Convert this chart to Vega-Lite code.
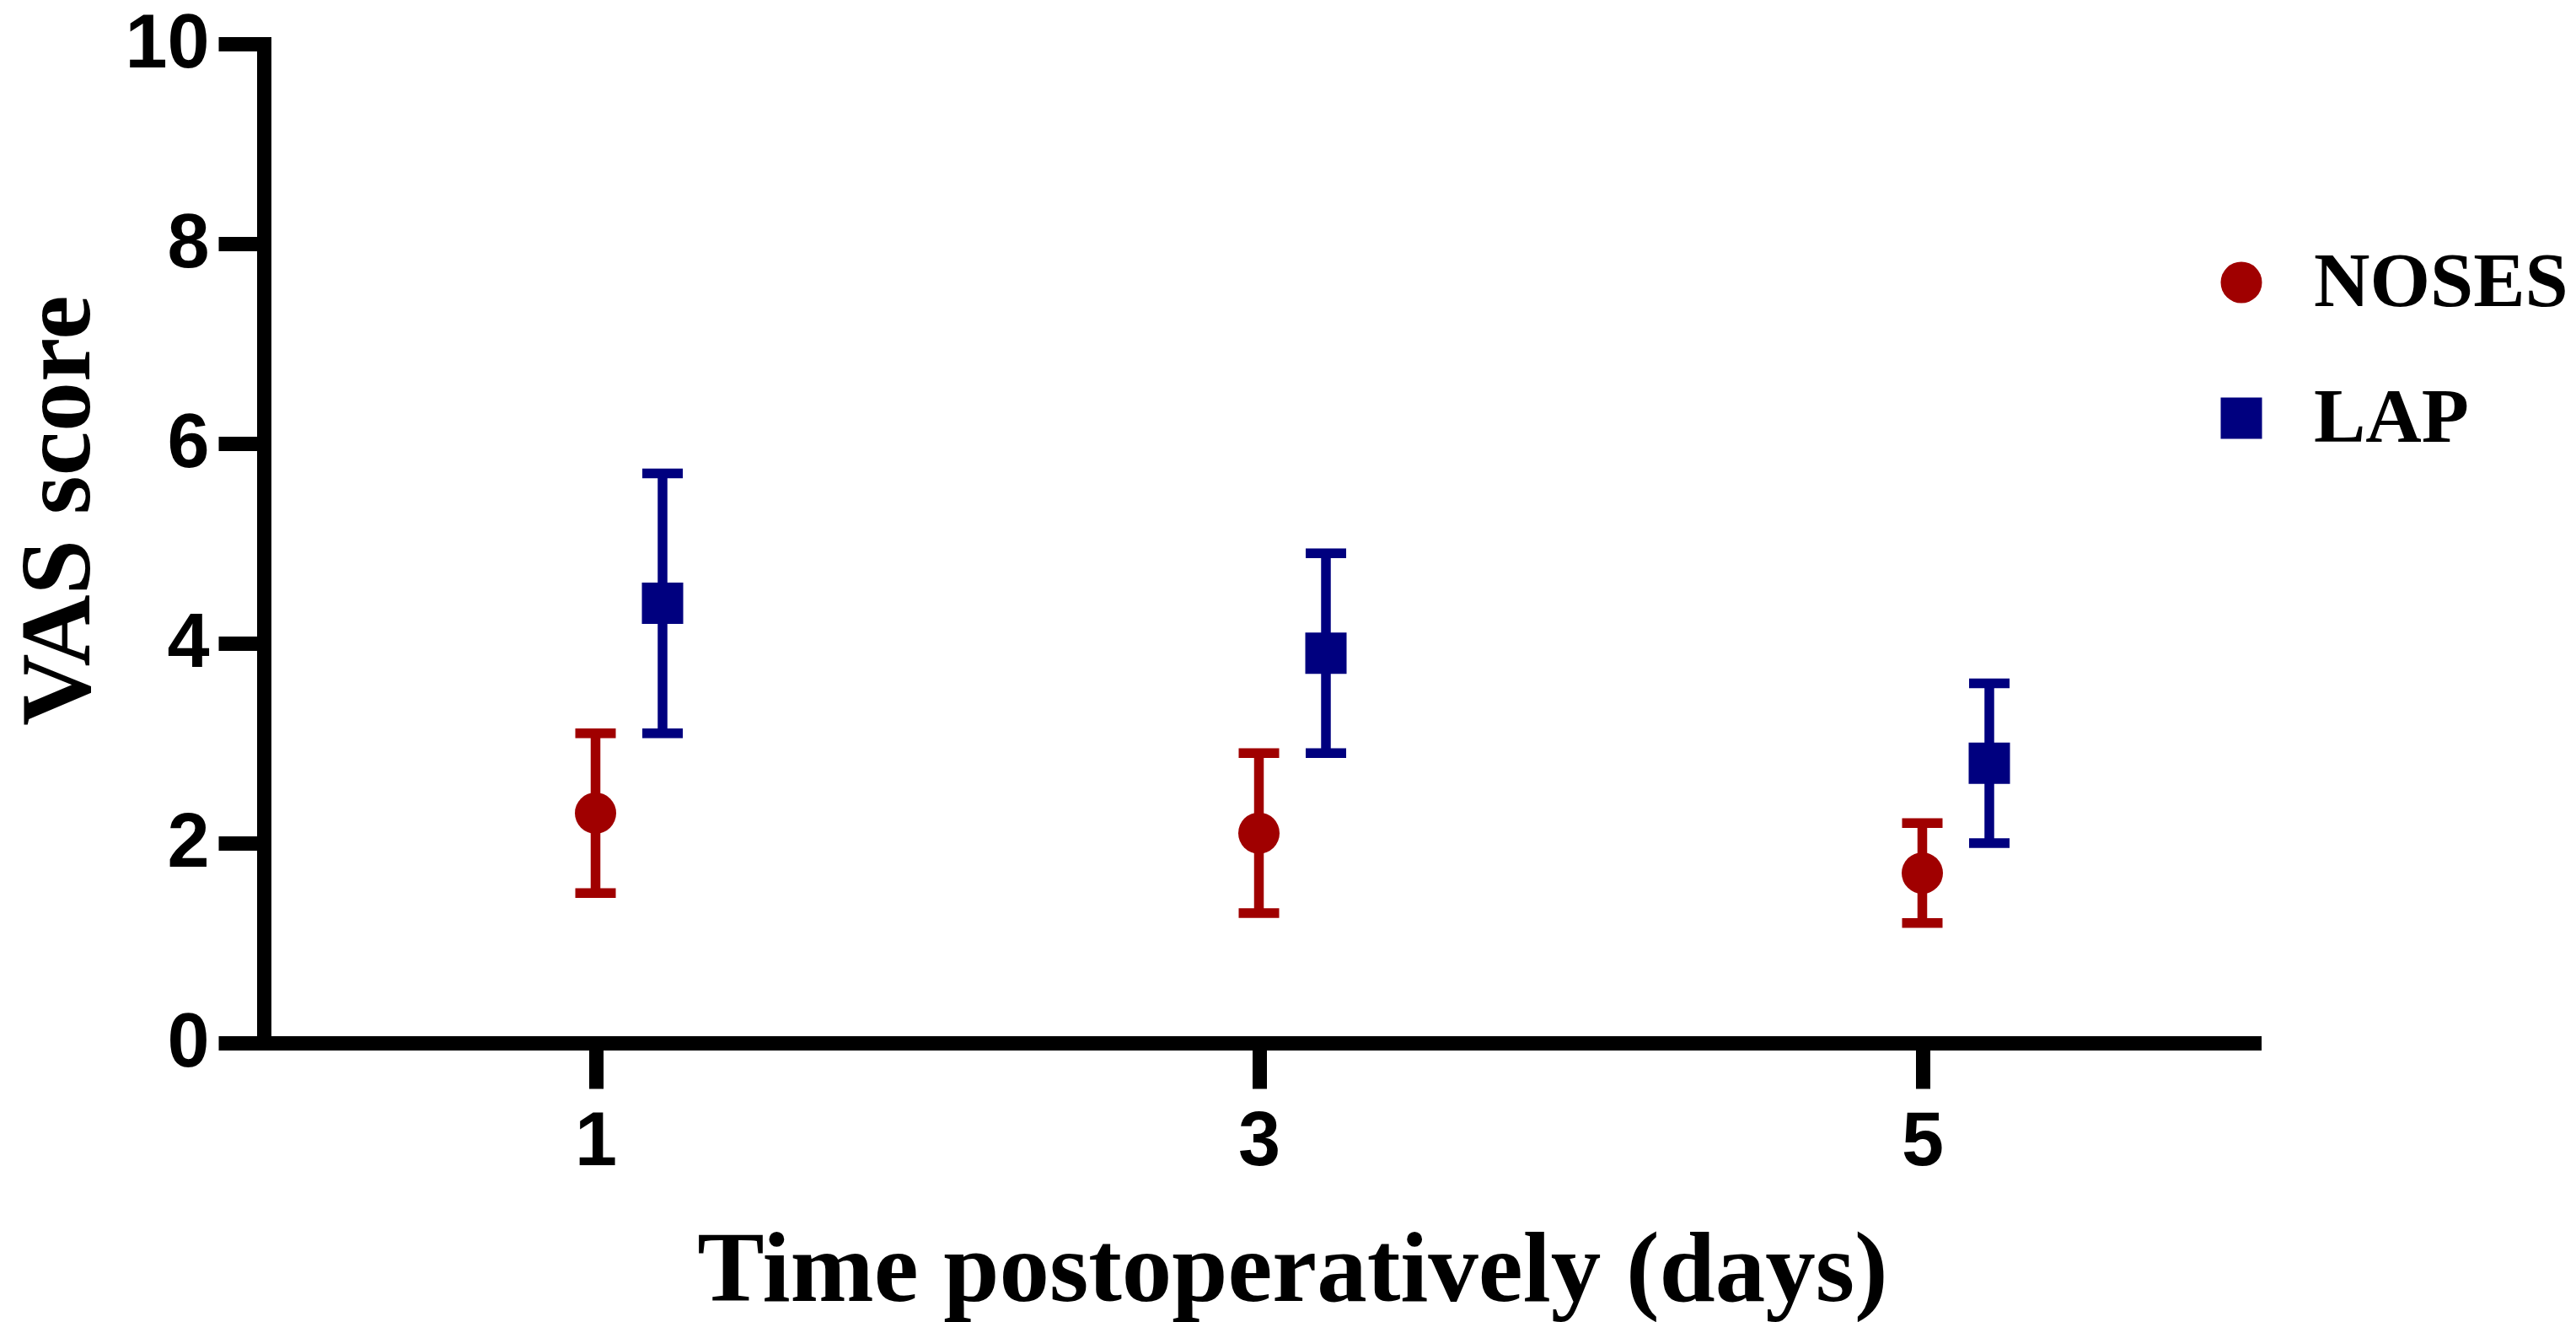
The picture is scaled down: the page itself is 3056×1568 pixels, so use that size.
{
  "$schema": "https://vega.github.io/schema/vega-lite/v6.json",
  "description": "VAS score by postoperative day, NOSES vs LAP, mean with error bars",
  "autosize": {"type": "none"},
  "padding": {"left": 313, "top": 52, "right": 382, "bottom": 331},
  "width": 2361,
  "height": 1185,
  "background": "white",
  "data": {
    "values": [
      {"day": 1, "group": "NOSES", "mean": 2.3, "lo": 1.5, "hi": 3.1},
      {"day": 3, "group": "NOSES", "mean": 2.1, "lo": 1.3, "hi": 2.9},
      {"day": 5, "group": "NOSES", "mean": 1.7, "lo": 1.2, "hi": 2.2},
      {"day": 1, "group": "LAP", "mean": 4.4, "lo": 3.1, "hi": 5.7},
      {"day": 3, "group": "LAP", "mean": 3.9, "lo": 2.9, "hi": 4.9},
      {"day": 5, "group": "LAP", "mean": 2.8, "lo": 2.0, "hi": 3.6}
    ]
  },
  "encoding": {
    "x": {
      "field": "day",
      "type": "ordinal",
      "scale": {"type": "point", "domain": [0, 1, 2, 3, 4, 5, 6], "padding": 0},
      "axis": {
        "values": [1, 3, 5],
        "labelAngle": 0,
        "title": "Time postoperatively (days)",
        "titleX": 1220,
        "titleY": 305,
        "titleAlign": "center",
        "titleBaseline": "alphabetic",
        "titleFont": "Liberation Serif",
        "titleFontSize": 119,
        "titleFontWeight": "bold",
        "labelPadding": 19
      }
    },
    "xOffset": {
      "field": "group",
      "type": "nominal",
      "scale": {"domain": ["NOSES", "LAP"], "range": [-39.75, 119.25], "paddingInner": 0, "paddingOuter": 0}
    },
    "color": {
      "field": "group",
      "type": "nominal",
      "scale": {"domain": ["NOSES", "LAP"], "range": ["#A00000", "#00007F"]},
      "legend": {
        "title": null,
        "orient": "none",
        "legendX": 2300,
        "legendY": 237,
        "direction": "vertical",
        "padding": 0,
        "symbolSize": 2401,
        "symbolStrokeWidth": 0,
        "symbolOpacity": 1,
        "labelFont": "Liberation Serif",
        "labelFontWeight": "bold",
        "labelFontSize": 92,
        "labelColor": "black",
        "labelOffset": 40,
        "labelLimit": 2000,
        "rowPadding": 69
      }
    }
  },
  "layer": [
    {
      "mark": {"type": "point", "filled": true, "size": 2401, "opacity": 1, "strokeWidth": 0},
      "encoding": {
        "y": {
          "field": "mean",
          "type": "quantitative",
          "scale": {"domain": [0, 10], "nice": false},
          "axis": {
            "values": [0, 2, 4, 6, 8, 10],
            "format": "d",
            "title": "VAS score",
            "titleAngle": -90,
            "titleX": -208,
            "titleY": 553,
            "titleAlign": "center",
            "titleBaseline": "alphabetic",
            "titleFont": "Liberation Serif",
            "titleFontSize": 118,
            "titleFontWeight": "bold",
            "labelPadding": 11
          }
        },
        "shape": {
          "field": "group",
          "type": "nominal",
          "scale": {"domain": ["NOSES", "LAP"], "range": ["circle", "square"]}
        }
      }
    },
    {
      "mark": {"type": "rule", "strokeWidth": 11.5},
      "encoding": {
        "y": {"field": "lo", "type": "quantitative"},
        "y2": {"field": "hi"}
      }
    },
    {
      "mark": {"type": "tick", "orient": "horizontal", "size": 48, "thickness": 11.5, "opacity": 1},
      "encoding": {
        "y": {"field": "lo", "type": "quantitative"}
      }
    },
    {
      "mark": {"type": "tick", "orient": "horizontal", "size": 48, "thickness": 11.5, "opacity": 1},
      "encoding": {
        "y": {"field": "hi", "type": "quantitative"}
      }
    }
  ],
  "config": {
    "view": {"stroke": null},
    "axis": {
      "grid": false,
      "domainColor": "black",
      "domainWidth": 17,
      "domainCap": "square",
      "tickColor": "black",
      "tickWidth": 17,
      "tickSize": 54,
      "labelFont": "Liberation Sans",
      "labelFontWeight": "bold",
      "labelFontSize": 90,
      "labelColor": "black",
      "titleColor": "black"
    }
  }
}
